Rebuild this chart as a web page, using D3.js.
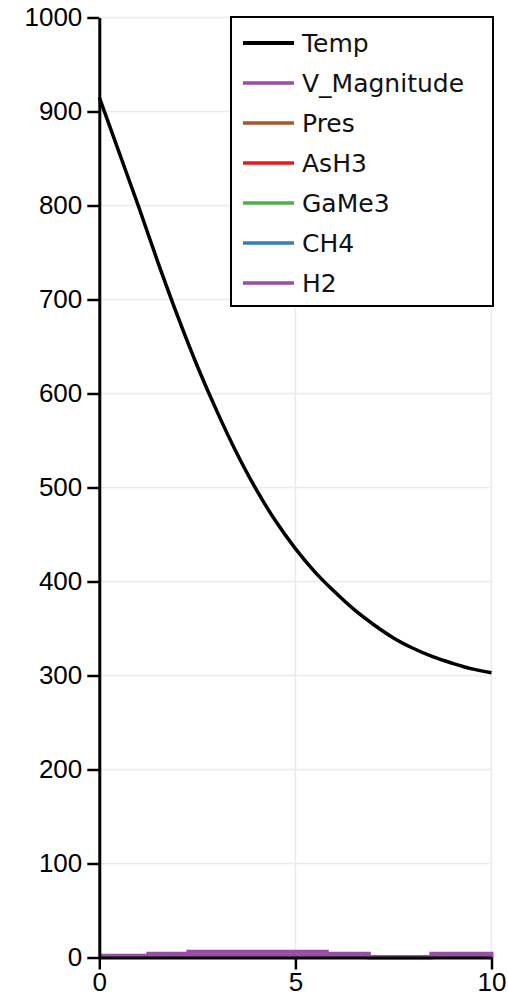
<!DOCTYPE html>
<html>
<head>
<meta charset="utf-8">
<script src="https://cdn.jsdelivr.net/npm/d3@7"></script>
<style>
  body { margin: 0; background: #fff; }
  svg { display: block; }
</style>
</head>
<body>
<div id="chart"></div>
<script>
// data
const xTicks = [0, 5, 10]
const yTicks = [0, 100, 200, 300, 400, 500, 600, 700, 800, 900, 1000]

const tempX = [0, 0.5, 1, 1.5, 2, 2.5, 3, 3.5, 4, 4.5, 5, 5.5, 6, 6.5, 7, 7.5, 8, 8.5, 9, 9.5, 10]
const tempY = [915, 857, 799, 739, 682, 629, 581, 537, 498, 464, 435, 410, 389, 370, 354, 340, 329, 320, 313, 307, 303]

const stepX = [0, 1.25, 2.27, 5.8, 6.87, 8.47, 10]
const h2Y = [1.8, 3.9, 6.1, 3.9, 0.4, 3.9, 6.1]
const vmagY = [0.5, 1.5, 2.3, 1.5, 0, 1.5, 2.3]

const flatX = [0, 10]
const presY = [0, 0]
const ash3Y = [0, 0]
const game3Y = [0, 0]
const ch4Y = [0, 0]

const seriesNames = ["Temp", "V_Magnitude", "Pres", "AsH3", "GaMe3", "CH4", "H2"]
const seriesColors = ["#000000", "#984ea3", "#a65628", "#e41a1c", "#4daf4a", "#377eb8", "#984ea3"]

const W = 508, H = 996
const margin = {top: 17.5, right: 16.5, bottom: 38.5, left: 99.3}

const svg = d3.select("#chart").append("svg")
    .attr("width", W).attr("height", H)

const x = d3.scaleLinear().domain([0, 10]).range([margin.left, W - margin.right])
const y = d3.scaleLinear().domain([0, 1000]).range([H - margin.bottom, margin.top])

// grid
const grid = svg.append("g")
grid.selectAll(".hgrid").data(yTicks).enter().append("line")
    .attr("x1", x(0)).attr("x2", x(10))
    .attr("y1", d => y(d)).attr("y2", d => y(d))
    .attr("stroke", "#ebebeb").attr("stroke-width", 1.5)
grid.selectAll(".vgrid").data(xTicks).enter().append("line")
    .attr("y1", y(0)).attr("y2", y(1000))
    .attr("x1", d => x(d)).attr("x2", d => x(d))
    .attr("stroke", "#ebebeb").attr("stroke-width", 1.5)

const zip = (xs, ys) => xs.map((v, i) => [v, ys[i]])
const line = d3.line().x(d => x(d[0])).y(d => y(d[1]))
const smooth = d3.line().x(d => x(d[0])).y(d => y(d[1])).curve(d3.curveCatmullRom)
const stepLine = d3.line().x(d => x(d[0])).y(d => y(d[1])).curve(d3.curveStepAfter)

const plotted = [
    {pts: zip(flatX, presY), color: seriesColors[2], gen: line, w: 3},
    {pts: zip(flatX, ash3Y), color: seriesColors[3], gen: line, w: 3},
    {pts: zip(flatX, game3Y), color: seriesColors[4], gen: line, w: 3},
    {pts: zip(flatX, ch4Y), color: seriesColors[5], gen: line, w: 3},
    {pts: zip(stepX, vmagY), color: seriesColors[1], gen: stepLine, w: 4},
    {pts: zip(stepX, h2Y), color: seriesColors[6], gen: stepLine, w: 4},
    {pts: zip(tempX, tempY), color: seriesColors[0], gen: smooth, w: 3.5}
]
svg.append("g").selectAll("path").data(plotted).enter().append("path")
    .attr("fill", "none")
    .attr("stroke", d => d.color)
    .attr("stroke-width", d => d.w)
    .attr("d", d => d.gen(d.pts))

// axes
const tickFont = "'Liberation Sans', Arial, sans-serif"
const yAxis = svg.append("g").attr("transform", `translate(${x(0)},0)`)
    .call(d3.axisLeft(y).tickValues(yTicks).tickFormat(d3.format("d"))
        .tickSize(12).tickPadding(5).tickSizeOuter(0))
const xAxis = svg.append("g").attr("transform", `translate(0,${y(0)})`)
    .call(d3.axisBottom(x).tickValues(xTicks).tickFormat(d3.format("d"))
        .tickSize(12).tickPadding(3).tickSizeOuter(0))
;[xAxis, yAxis].forEach(a => {
    a.select(".domain").attr("stroke", "#000").attr("stroke-width", 3)
    a.selectAll(".tick line").attr("stroke", "#000").attr("stroke-width", 2.5)
    a.selectAll("text").attr("fill", "#000")
        .style("font-family", tickFont).style("font-size", "26px")
})

// legend
const lx = 231, ly = 17, lw = 262, lh = 289
const legend = svg.append("g")
legend.append("rect")
    .attr("x", lx).attr("y", ly).attr("width", lw).attr("height", lh)
    .attr("fill", "#fff").attr("stroke", "#000").attr("stroke-width", 2)
const items = legend.selectAll(".item").data(seriesNames).enter().append("g")
    .attr("transform", (d, i) => `translate(${lx},${ly + 26 + i * 40})`)
items.append("line")
    .attr("x1", 12).attr("x2", 63)
    .attr("stroke", (d, i) => seriesColors[i])
    .attr("stroke-width", (d, i) => i === 0 ? 4 : 3.5)
items.append("text")
    .attr("x", 71).attr("y", 9)
    .style("font-family", "'DejaVu Sans', sans-serif")
    .style("font-size", "25px")
    .attr("fill", "#111")
    .text(d => d)
</script>
</body>
</html>
